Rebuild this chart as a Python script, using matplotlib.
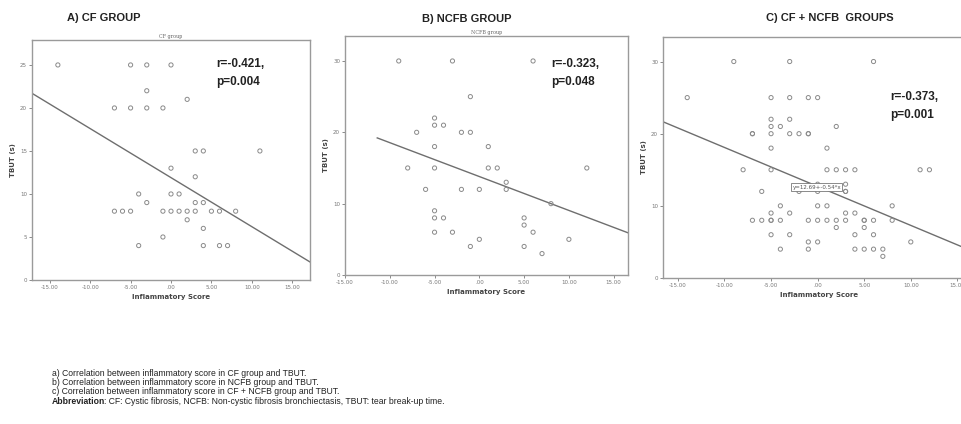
import numpy as np
import matplotlib
matplotlib.use("Agg")
import matplotlib.pyplot as plt

# ---- data ----
x_cf = [-14, -5, -3, 0, -3, 2, -7, -5, -3, -1, 3, 4, 11, 0, 3, -4, 0, 1, -3, 3, 4,
        -7, -6, -5, -1, 0, 1, 2, 3, 5, 6, 8, 2, 4, -1, -4, 4, 6, 7]
y_cf = [25, 25, 25, 25, 22, 21, 20, 20, 20, 20, 15, 15, 15, 13, 12, 10, 10, 10, 9, 9, 9,
        8, 8, 8, 8, 8, 8, 8, 8, 8, 8, 8, 7, 6, 5, 4, 4, 4, 4]

x_ncfb = [-9, -3, 6, -1, -5, -5, -4, -7, -2, -1, -5, 1, -8, -5, 1, 2, 12, 3, -6, -2, 0, 3,
          8, -5, -5, -4, 5, 5, -5, -3, 6, 0, 10, -1, 5, 7]
y_ncfb = [30, 30, 30, 25, 22, 21, 21, 20, 20, 20, 18, 18, 15, 15, 15, 15, 15, 13, 12, 12, 12, 12,
          10, 9, 8, 8, 8, 7, 6, 6, 6, 5, 5, 4, 4, 3]

# combined group = both samples together
x_all = x_cf + x_ncfb
y_all = y_cf + y_ncfb

# fitted lines (intercept, slope)
fit_cf = (11.9, -0.57)
fit_ncfb = (13.8, -0.475)
fit_all = (12.69, -0.54)

stats_cf = "r=-0.421,\np=0.004"
stats_ncfb = "r=-0.323,\np=0.048"
stats_all = "r=-0.373,\np=0.001"

xticks = [-15, -10, -5, 0, 5, 10, 15]
xtick_labels = ["-15.00", "-10.00", "-5.00", ".00", "5.00", "10.00", "15.00"]

notes = [
    "a) Correlation between inflammatory score in CF group and TBUT.",
    "b) Correlation between inflammatory score in NCFB group and TBUT.",
    "c) Correlation between inflammatory score in CF + NCFB group and TBUT.",
]
abbrev = ": CF: Cystic fibrosis, NCFB: Non-cystic fibrosis bronchiectasis, TBUT: tear break-up time."

W, H = 962, 424
fig = plt.figure(figsize=(W / 100, H / 100), dpi=100)

def px_axes(left, top, right, bottom):
    return fig.add_axes([left / W, 1 - bottom / H, (right - left) / W, (bottom - top) / H])

edge = "#9a9a9a"
txt_gray = "#777777"

def draw_panel(ax, xs, ys, fit, xlim, ylim, yticks, stats, stats_xy, subtitle=None):
    ax.scatter(xs, ys, s=9, facecolors="none", edgecolors="#8a8a8a", linewidths=0.7, zorder=3)
    b0, b1 = fit
    xl = np.array(xlim)
    ax.plot(xl, b0 + b1 * xl, color="#6e6e6e", lw=1.0, zorder=2)
    ax.set_xlim(xlim)
    ax.set_ylim(ylim)
    ax.set_xticks(xticks)
    ax.set_xticklabels(xtick_labels)
    ax.set_yticks(yticks)
    ax.tick_params(labelsize=4, colors=txt_gray, length=2, width=0.6, pad=1.5)
    for s in ax.spines.values():
        s.set_color(edge)
        s.set_linewidth(1.0)
    ax.set_xlabel("Inflammatory Score", fontsize=5, fontweight="bold", color="#444444", labelpad=3)
    ax.set_ylabel("TBUT (s)", fontsize=5, fontweight="bold", color="#444444", labelpad=3)
    ax.text(stats_xy[0], stats_xy[1], stats, fontsize=8.5, fontweight="bold", va="top", ha="left",
            color="#222222", linespacing=1.7, family="Liberation Sans")
    if subtitle:
        ax.text(0.5, 1.005, subtitle, transform=ax.transAxes, ha="center", va="bottom",
                fontsize=3.5, color="#666666", family="DejaVu Serif")

ax1 = px_axes(32, 40, 310, 280)
draw_panel(ax1, x_cf, y_cf, fit_cf, (-17.2, 17.2), (0, 27.9), [0, 5, 10, 15, 20, 25],
           stats_cf, (5.6, 25.8), "CF group")

ax2 = px_axes(345, 36, 628, 275)
draw_panel(ax2, x_ncfb, y_ncfb, fit_ncfb, (-11.4, 16.6), (0, 33.5), [0, 10, 20, 30],
           stats_ncfb, (8.0, 30.4), "NCFB group")

# panel C runs past the right edge of the image, as in the original
ax3 = px_axes(663, 37, 976, 278)
draw_panel(ax3, x_all, y_all, fit_all, (-16.6, 17.0), (0, 33.4), [0, 10, 20, 30],
           stats_all, (7.8, 25.9))
ax3.text(-2.7, 12.6, "y=12.69+-0.54*x", fontsize=4, va="center", ha="left", color="#555555",
         bbox=dict(boxstyle="square,pad=0.25", fc="white", ec="#777777", lw=0.6), zorder=4)

title_kw = dict(fontsize=8, fontweight="bold", color="#222222", family="Liberation Sans",
                ha="center", va="center")
fig.text(104 / W, 1 - 18 / H, "A) CF GROUP", **title_kw)
fig.text(467 / W, 1 - 19 / H, "B) NCFB GROUP", **title_kw)
fig.text(830 / W, 1 - 18 / H, "C) CF + NCFB  GROUPS", **title_kw)

# footnotes
note_kw = dict(fontsize=6.2, color="#222222", family="Liberation Sans", ha="left", va="center")
for i, line in enumerate(notes):
    fig.text(52 / W, 1 - (373 + 9.5 * i) / H, line, **note_kw)
t_ab = fig.text(52 / W, 1 - (373 + 9.5 * 3) / H, "Abbreviation", fontweight="bold", **note_kw)
ax1.annotate(abbrev, xy=(1, 0.5), xycoords=t_ab, xytext=(-1, 0), textcoords="offset points",
             annotation_clip=False, **note_kw)

fig.savefig("out.png", dpi=100)
